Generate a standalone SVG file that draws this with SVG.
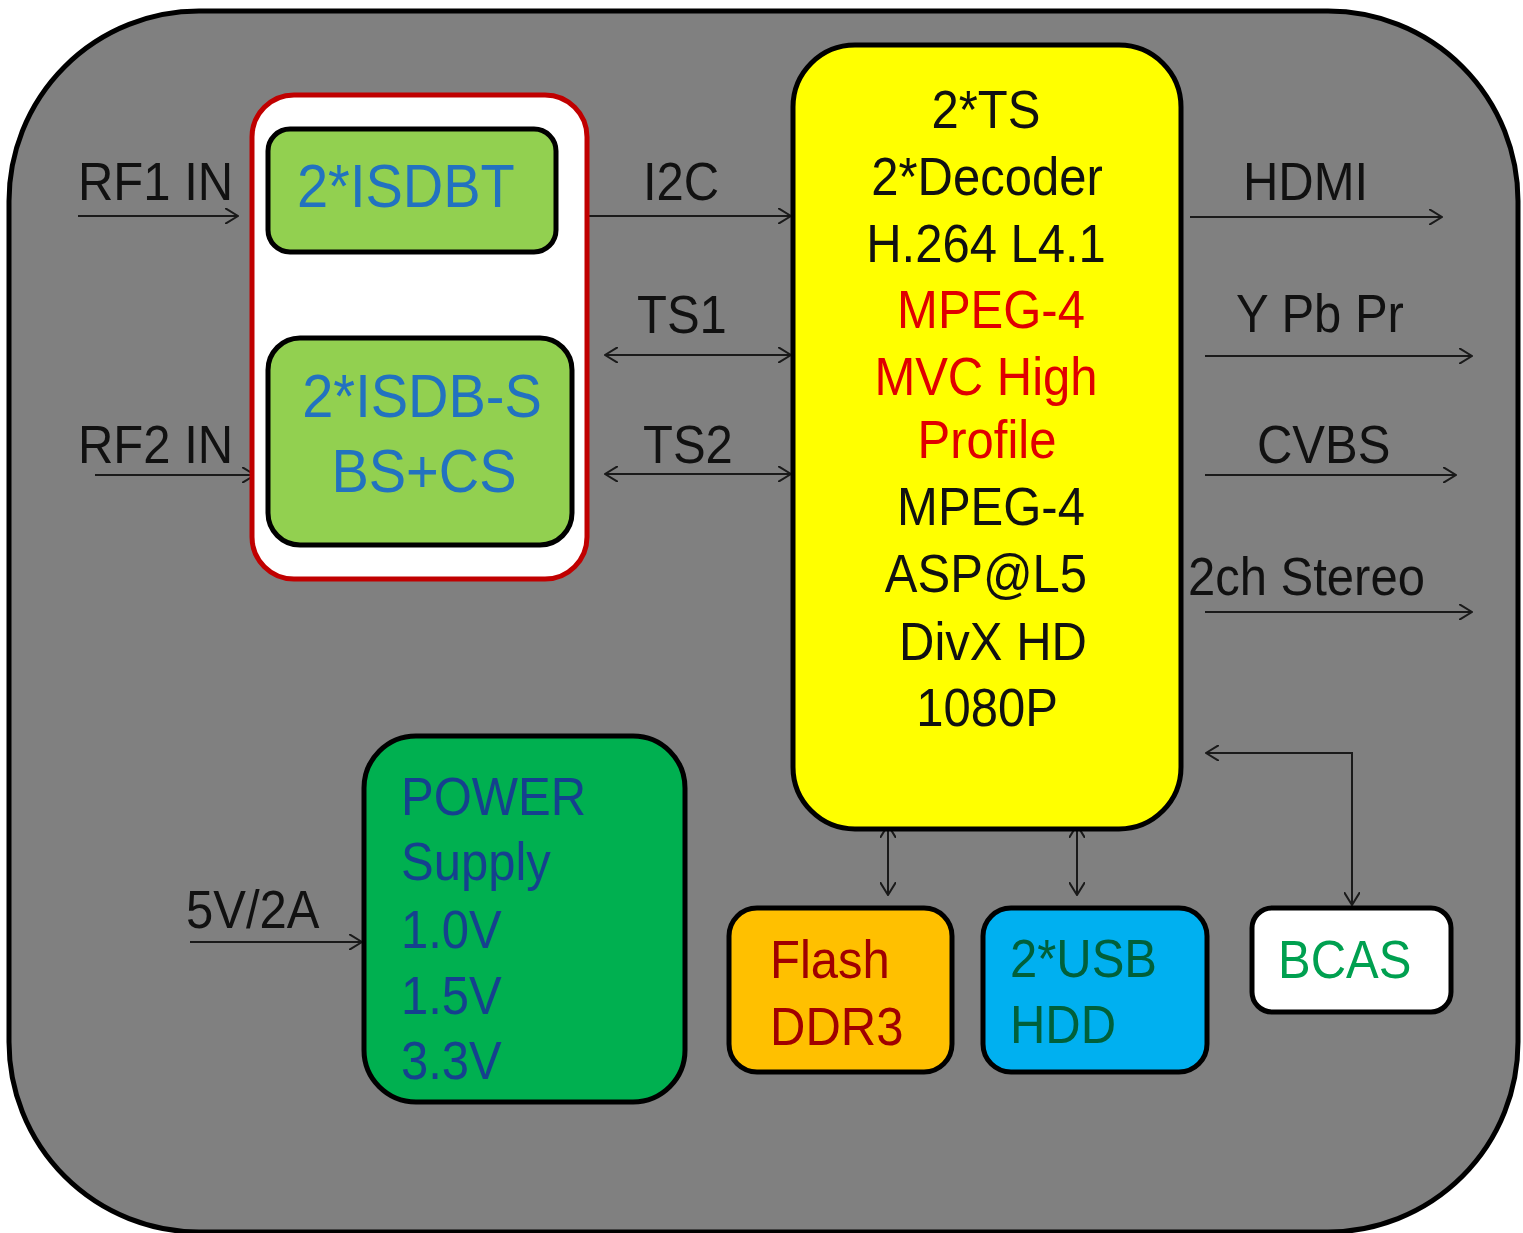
<svg xmlns="http://www.w3.org/2000/svg" width="1523" height="1233" viewBox="0 0 1523 1233">
<style>
text{font-family:"Liberation Sans",Arial,sans-serif;font-size:49px;fill:#111}
.c{text-anchor:middle}
.box{stroke:#000;stroke-width:5}
.ln{stroke:#1a1a1a;stroke-width:2;fill:none}
.big{font-size:56px;fill:#2272c0}
.red{fill:#e00000}
.pw{fill:#15418e}
.fl{fill:#a00000}
.usb{fill:#00603a}
.bc{fill:#00a050}
</style>
<defs>
<marker id="ah" viewBox="0 0 14 16" refX="13" refY="8" markerWidth="14" markerHeight="16" markerUnits="userSpaceOnUse" orient="auto-start-reverse">
<path d="M0,0 L13,8 L0,16" fill="none" stroke="#1a1a1a" stroke-width="2"/>
</marker>
</defs>
<rect width="1523" height="1233" fill="#fff"/>
<rect id="frame" x="9" y="11" width="1509" height="1221" rx="190" ry="190" fill="#808080" stroke="#000" stroke-width="5"/>

<g id="connectors">
<line class="ln" x1="78" y1="216" x2="238" y2="216" marker-end="url(#ah)"/>
<line class="ln" x1="95" y1="475" x2="255" y2="475" marker-end="url(#ah)"/>
<line class="ln" x1="588" y1="216" x2="791" y2="216" marker-end="url(#ah)"/>
<line class="ln" x1="605" y1="355" x2="791" y2="355" marker-start="url(#ah)" marker-end="url(#ah)"/>
<line class="ln" x1="605" y1="474" x2="791" y2="474" marker-start="url(#ah)" marker-end="url(#ah)"/>
<line class="ln" x1="1190" y1="217" x2="1442" y2="217" marker-end="url(#ah)"/>
<line class="ln" x1="1205" y1="356" x2="1472" y2="356" marker-end="url(#ah)"/>
<line class="ln" x1="1205" y1="475" x2="1456" y2="475" marker-end="url(#ah)"/>
<line class="ln" x1="1205" y1="612" x2="1472" y2="612" marker-end="url(#ah)"/>
<line class="ln" x1="190" y1="942" x2="362" y2="942" marker-end="url(#ah)"/>
<line class="ln" x1="888" y1="825" x2="888" y2="895" marker-start="url(#ah)" marker-end="url(#ah)"/>
<line class="ln" x1="1077" y1="825" x2="1077" y2="895" marker-start="url(#ah)" marker-end="url(#ah)"/>
<polyline class="ln" points="1206,753 1352,753 1352,905" marker-start="url(#ah)" marker-end="url(#ah)"/>
<g transform="scale(1,1.08)">
<text x="78" y="185.2">RF1 IN</text>
<text x="78" y="428.7">RF2 IN</text>
<text x="643" y="185.2">I2C</text>
<text x="637" y="308.3">TS1</text>
<text x="643" y="428.7">TS2</text>
<text x="1243" y="185.2">HDMI</text>
<text x="1236" y="307.4">Y Pb Pr</text>
<text x="1257" y="428.7">CVBS</text>
<text x="1188" y="550.9">2ch Stereo</text>
<text x="186" y="859.3">5V/2A</text>
</g>
</g>

<g id="tuner-group">
<rect x="252" y="95" width="335" height="484" rx="42" fill="#fff" stroke="#c00000" stroke-width="5"/>
</g>
<g id="isdbt">
<rect class="box" x="268" y="129" width="288" height="123" rx="22" fill="#92d050"/>
<g transform="scale(1,1.08)"><text class="big" x="297" y="191.7">2*ISDBT</text></g>
</g>
<g id="isdbs">
<rect class="box" x="268" y="338" width="304" height="207" rx="32" fill="#92d050"/>
<g transform="scale(1,1.08)">
<text class="big c" x="422" y="386.1">2*ISDB-S</text>
<text class="big c" x="424" y="455.6">BS+CS</text>
</g>
</g>

<g id="decoder">
<rect class="box" x="793" y="45" width="388" height="784" rx="62" fill="#ffff00"/>
<g transform="scale(1,1.08)">
<text class="c" x="986" y="118.5">2*TS</text>
<text class="c" x="987" y="180.6">2*Decoder</text>
<text class="c" x="986" y="242.6">H.264 L4.1</text>
<text class="c red" x="991" y="303.7">MPEG-4</text>
<text class="c red" x="986" y="365.7">MVC High</text>
<text class="c red" x="987" y="424.1">Profile</text>
<text class="c" x="991" y="486.1">MPEG-4</text>
<text class="c" x="986" y="548.1">ASP@L5</text>
<text class="c" x="993" y="611.1">DivX HD</text>
<text class="c" x="987" y="672.2">1080P</text>
</g>
</g>

<g id="power">
<rect class="box" x="364" y="736" width="321" height="366" rx="52" fill="#00b050"/>
<g transform="scale(1,1.08)">
<text class="pw" x="401" y="754.6">POWER</text>
<text class="pw" x="401" y="814.8">Supply</text>
<text class="pw" x="401" y="877.8">1.0V</text>
<text class="pw" x="401" y="938.9">1.5V</text>
<text class="pw" x="401" y="999.1">3.3V</text>
</g>
</g>

<g id="flash">
<rect class="box" x="729" y="908" width="223" height="164" rx="28" fill="#ffc000"/>
<g transform="scale(1,1.08)">
<text class="fl" x="770" y="905.6">Flash</text>
<text class="fl" x="770" y="967.6">DDR3</text>
</g>
</g>

<g id="usb">
<rect class="box" x="983" y="908" width="224" height="164" rx="28" fill="#00b0f0"/>
<g transform="scale(1,1.08)">
<text class="usb" x="1010" y="904.6">2*USB</text>
<text class="usb" x="1010" y="965.7">HDD</text>
</g>
</g>

<g id="bcas">
<rect class="box" x="1252" y="908" width="199" height="104" rx="20" fill="#fff"/>
<g transform="scale(1,1.08)">
<text class="bc" x="1278" y="905.6">BCAS</text>
</g>
</g>
</svg>
